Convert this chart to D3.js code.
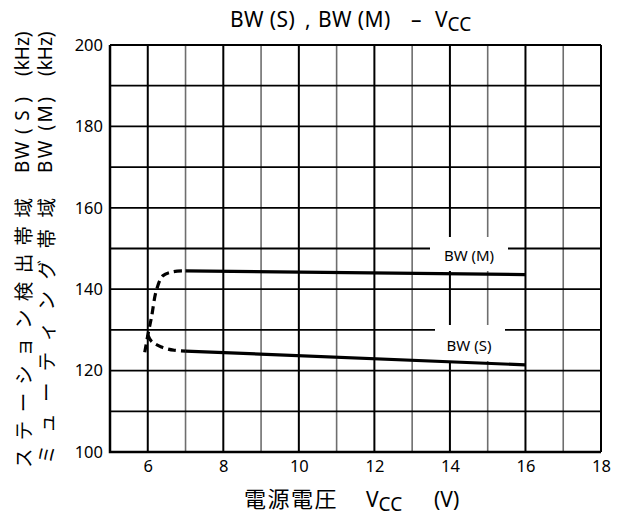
<!DOCTYPE html>
<html>
<head>
<meta charset="utf-8">
<script src="https://cdn.jsdelivr.net/npm/d3@7/dist/d3.min.js"></script>
<style>
  html, body { margin: 0; padding: 0; background: #fff; }
  svg { display: block; }
  text { font-family: "Noto Sans", "Noto Sans CJK JP", sans-serif; fill: #000; white-space: pre; }
  .jp { font-family: "Noto Sans CJK JP", "Noto Sans", sans-serif; }
</style>
</head>
<body>
<svg id="chart" width="626" height="520"></svg>
<script>
// Supply voltage ticks (V) and bandwidth ticks (kHz)
const xTicks = [6, 8, 10, 12, 14, 16, 18];
const yTicks = [100, 120, 140, 160, 180, 200];

// BW (M): muting bandwidth
const bwMDashVcc = [5.92, 6.0, 6.1, 6.23, 6.4, 6.67, 7.0];
const bwMDashVal = [124.5, 128.6, 133.2, 139.8, 143.3, 144.3, 144.5];
const bwMSolidVcc = [7.0, 16.0];
const bwMSolidVal = [144.5, 143.6];

// BW (S): station detection bandwidth
const bwSDashVcc = [6.0, 6.1, 6.36, 6.7, 7.0];
const bwSDashVal = [128.8, 127.2, 125.8, 125.0, 124.8];
const bwSSolidVcc = [7.0, 16.0];
const bwSSolidVal = [124.8, 121.4];

const svg = d3.select("#chart");
const x = d3.scaleLinear().domain([5, 18]).range([110, 601]);
const y = d3.scaleLinear().domain([100, 200]).range([452, 45]);

// grid: vertical every 1 V, horizontal every 10 kHz
const grid = svg.append("g");
d3.range(5, 19).forEach(v => {
  grid.append("line")
    .attr("x1", x(v)).attr("x2", x(v))
    .attr("y1", y(100)).attr("y2", y(200))
    .attr("stroke", v % 2 === 0 ? "#000" : "#6e6e6e")
    .attr("stroke-width", v % 2 === 0 ? 2 : 1.6);
});
d3.range(100, 201, 10).forEach(v => {
  grid.append("line")
    .attr("x1", x(5)).attr("x2", x(18))
    .attr("y1", y(v)).attr("y2", y(v))
    .attr("stroke", "#000")
    .attr("stroke-width", 1.8);
});
// frame
svg.append("path")
  .attr("d", `M${x(5)},${y(200)}V${y(100)}H${x(18)}`)
  .attr("fill", "none").attr("stroke", "#000").attr("stroke-width", 2.5);

// axes (labels only)
const xAxis = d3.axisBottom(x).tickValues(xTicks).tickSize(0).tickPadding(8);
svg.append("g").attr("transform", `translate(0,${y(100)})`).call(xAxis)
  .call(g => g.select(".domain").remove())
  .selectAll("text").attr("font-size", 16.5).style("font-family", '"Noto Sans", sans-serif');
const yAxis = d3.axisLeft(y).tickValues(yTicks).tickSize(0).tickPadding(7);
svg.append("g").attr("transform", `translate(${x(5)},0)`).call(yAxis)
  .call(g => g.select(".domain").remove())
  .selectAll("text").attr("font-size", 16.5).style("font-family", '"Noto Sans", sans-serif');

// series labels on white patches
const labels = [
  { text: "BW (M)", cx: 469, cy: 255, x0: 430, x1: 508, y0: 237, y1: 271 },
  { text: "BW (S)", cx: 469, cy: 345, x0: 435, x1: 505, y0: 325, y1: 361 }
];
labels.forEach(l => {
  svg.append("rect").attr("x", l.x0).attr("y", l.y0)
    .attr("width", l.x1 - l.x0).attr("height", l.y1 - l.y0).attr("fill", "#fff");
  svg.append("text").attr("x", l.cx).attr("y", l.cy)
    .attr("text-anchor", "middle").attr("dominant-baseline", "central")
    .attr("font-size", 15).text(l.text);
});

// curves
const line = d3.line().x(d => x(d[0])).y(d => y(d[1])).curve(d3.curveMonotoneX);
const lineNat = d3.line().x(d => x(d[0])).y(d => y(d[1])).curve(d3.curveCatmullRom);
function draw(vs, vals, dashed, gen) {
  svg.append("path")
    .attr("d", gen(vs.map((v, i) => [v, vals[i]])))
    .attr("fill", "none").attr("stroke", "#000")
    .attr("stroke-width", 3.2)
    .attr("stroke-dasharray", dashed ? "8,5" : null);
}
draw(bwMDashVcc, bwMDashVal, true, lineNat);
draw(bwMSolidVcc, bwMSolidVal, false, line);
draw(bwSDashVcc, bwSDashVal, true, lineNat);
draw(bwSSolidVcc, bwSSolidVal, false, line);

// title
const title = svg.append("text").attr("y", 27).attr("font-size", 21);
title.append("tspan").attr("x", 230).attr("letter-spacing", 0.4).text("BW (S)");
title.append("tspan").attr("x", 305).text(",");
title.append("tspan").attr("x", 318).attr("letter-spacing", 0.4).text("BW (M)");
title.append("tspan").attr("x", 411).text("–");
title.append("tspan").attr("x", 435).text("V");
title.append("tspan").attr("dy", 4).attr("font-size", 19).text("CC");

// x-axis title
const xt = svg.append("text").attr("y", 507).attr("font-size", 21);
xt.append("tspan").attr("x", 244).attr("class", "jp")
  .attr("font-size", 22).attr("letter-spacing", 1.5).text("電源電圧");
xt.append("tspan").attr("x", 366).text("V");
xt.append("tspan").attr("dy", 4).attr("font-size", 19).text("CC");
xt.append("tspan").attr("x", 434).attr("dy", -4).text("(V)");

// y-axis title: two rotated columns
const yCols = [
  { cx: 22, jp: "ステーション検出帯域", jpLen: 270, start: 468, bw: "BW ( S )" },
  { cx: 45, jp: "ミューティング帯域", jpLen: 266, start: 464, bw: "BW (M)" }
];
yCols.forEach(c => {
  const g = svg.append("g").attr("transform", `translate(${c.cx},0) rotate(-90)`);
  g.append("text").attr("class", "jp")
    .attr("x", -c.start).attr("y", 0)
    .attr("dominant-baseline", "central")
    .attr("font-size", 19.5)
    .attr("textLength", c.jpLen).attr("lengthAdjust", "spacing")
    .text(c.jp);
  g.append("text").attr("x", -173).attr("y", 0)
    .attr("dominant-baseline", "central")
    .attr("font-size", 19)
    .attr("textLength", 76).attr("lengthAdjust", "spacing")
    .text(c.bw);
  g.append("text").attr("x", -76).attr("y", 0)
    .attr("dominant-baseline", "central")
    .attr("font-size", 19)
    .text("(kHz)");
});
</script>
</body>
</html>
